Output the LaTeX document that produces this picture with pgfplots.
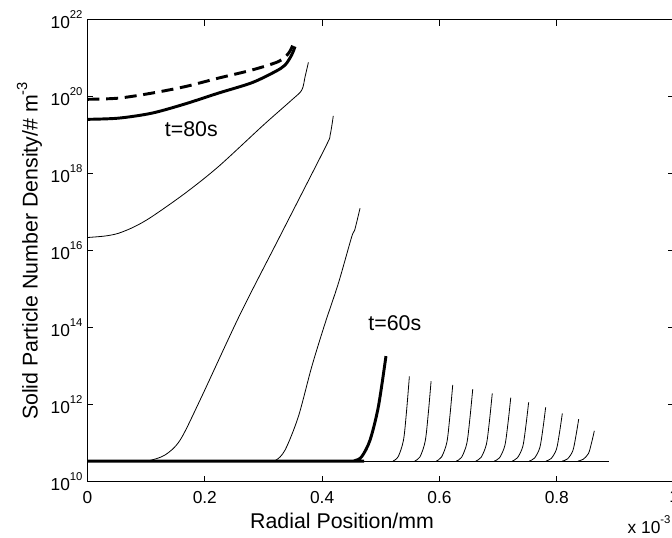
\documentclass[border=0pt]{standalone}
\usepackage{fontspec}
\setmainfont{Liberation Sans}
\usepackage{pgfplots}
\pgfplotsset{compat=1.18}

% power of ten label, MATLAB style
\newcommand{\tpow}[1]{10\raisebox{7.5pt}{\fontsize{8.5}{10}\selectfont #1}}

\begin{document}
\begin{tikzpicture}
\begin{axis}[
  scale only axis, width=440pt, height=346.5pt,
  xmin=0, xmax=1, ymin=1e10, ymax=1e22, ymode=log,
  xtick={0,0.2,0.4,0.6,0.8,1}, xticklabels={0,0.2,0.4,0.6,0.8,1},
  ytick={1e10,1e12,1e14,1e16,1e18,1e20,1e22},
  yticklabels={\tpow{10},\tpow{12},\tpow{14},\tpow{16},\tpow{18},\tpow{20},\tpow{22}},
  yminorticks=false,
  tick align=inside, tick pos=both, major tick length=4.5pt,
  major tick style={line width=0.75pt, black},
  line width=0.75pt,
  tick label style={font=\fontsize{13}{15}\selectfont},
  xticklabel style={yshift=-3pt},
  xlabel={Radial Position/mm},
  ylabel={Solid Particle Number Density/\# m\raisebox{0.5em}{\fontsize{11}{13}\selectfont -3}},
  xlabel style={at={(axis description cs:0.434,-0.0837)}, anchor=center, font=\fontsize{16}{19}\selectfont},
  ylabel style={at={(axis description cs:-0.0989,0.5)}, anchor=center, font=\fontsize{16}{19}\selectfont},
  clip mode=individual,
]
% baseline (thin)
\addplot[black, line width=0.6pt] coordinates {(0,3.5e10) (0.8886,3.5e10)};
% thin profiles
\addplot[black, line width=0.6pt, smooth] coordinates {
  (0,2.24e16) (0.03,2.45e16) (0.0527,2.88e16) (0.08,4.27e16) (0.1096,7.76e16) (0.1664,3.16e17) (0.2231,1.55e18)
  (0.2998,1.86e19) (0.348,8.32e19) (0.3653,1.51e20) (0.371,3.39e20) (0.3766,7.94e20)};
\addplot[black, line width=0.6pt, smooth] coordinates {
  (0.09,3.5e10) (0.103,3.52e10) (0.132,5.0e10) (0.158,1.23e11) (0.192,1.35e12)
  (0.260,2.24e14) (0.328,2.4e16) (0.405,4.79e18) (0.4136,1.02e19) (0.419,3.24e19)};
\addplot[black, line width=0.6pt, smooth] coordinates {
  (0.30,3.5e10) (0.3198,3.6e10) (0.3368,6.76e10) (0.3595,5.01e11) (0.3822,9.77e12)
  (0.405,1.32e14) (0.4277,1.45e15) (0.4504,2.34e16) (0.4555,3.5e16) (0.4646,1.29e17)};
% small profiles after t=60s
\addplot[black, line width=0.6pt, smooth] coordinates {(0.5207,3.5e10) (0.5297,4.57e10) (0.5387,1.23e11) (0.5440,7.24e11) (0.5487,5.5e12)};
\addplot[black, line width=0.6pt, smooth] coordinates {(0.5577,3.5e10) (0.5667,4.47e10) (0.5757,1.15e11) (0.5810,6.17e11) (0.5857,4.17e12)};
\addplot[black, line width=0.6pt, smooth] coordinates {(0.5946,3.5e10) (0.6036,4.47e10) (0.6126,1.07e11) (0.6179,5.37e11) (0.6226,3.31e12)};
\addplot[black, line width=0.6pt, smooth] coordinates {(0.6287,3.5e10) (0.6377,4.37e10) (0.6467,1.02e11) (0.6520,4.68e11) (0.6567,2.57e12)};
\addplot[black, line width=0.6pt, smooth] coordinates {(0.662,3.5e10) (0.671,4.37e10) (0.680,9.55e10) (0.6853,3.98e11) (0.690,2.0e12)};
\addplot[black, line width=0.6pt, smooth] coordinates {(0.6935,3.5e10) (0.7025,4.27e10) (0.7115,8.91e10) (0.7168,3.39e11) (0.7215,1.55e12)};
\addplot[black, line width=0.6pt, smooth] coordinates {(0.724,3.5e10) (0.733,4.27e10) (0.742,8.32e10) (0.7473,2.88e11) (0.752,1.17e12)};
\addplot[black, line width=0.6pt, smooth] coordinates {(0.753,3.5e10) (0.762,4.17e10) (0.771,7.76e10) (0.7763,2.40e11) (0.781,8.71e11)};
\addplot[black, line width=0.6pt, smooth] coordinates {(0.7814,3.5e10) (0.7904,4.07e10) (0.7994,7.08e10) (0.8047,1.95e11) (0.8094,6.03e11)};
\addplot[black, line width=0.6pt, smooth] coordinates {(0.8093,3.5e10) (0.8183,3.98e10) (0.8273,6.46e10) (0.8326,1.58e11) (0.8373,4.27e11)};
\addplot[black, line width=0.6pt, smooth] coordinates {(0.836,3.5e10) (0.845,3.89e10) (0.854,5.5e10) (0.8593,1.05e11) (0.864,2.14e11)};
% t=60s (thick)
\addplot[black, line width=2.2pt, smooth] coordinates {
  (0,3.5e10) (0.44,3.5e10) (0.455,3.55e10) (0.4675,4.57e10) (0.4817,1.23e11) (0.4959,9.12e11) (0.5088,1.86e13)};
% t=80s (thick)
\addplot[black, line width=2.2pt, smooth] coordinates {
  (0,2.63e19) (0.0527,2.82e19) (0.1096,3.80e19) (0.1664,6.61e19) (0.2231,1.26e20)
  (0.280,2.34e20) (0.320,4.57e20) (0.3368,6.76e20) (0.348,1.23e21) (0.3538,2.04e21)};
% dashed
\addplot[black, line width=2.2pt, smooth, dash pattern=on 9pt off 5pt] coordinates {
  (0,8.71e19) (0.0527,9.33e19) (0.1096,1.26e20) (0.1664,1.86e20) (0.2231,3.09e20)
  (0.280,5.01e20) (0.3254,8.32e20) (0.3425,1.35e21) (0.351,2.40e21)};

\node[font=\fontsize{16}{19}\selectfont] at (axis cs:0.177,1.48e19) {t=80s};
\node[font=\fontsize{16}{19}\selectfont] at (axis cs:0.524,1.32e14) {t=60s};
\node[anchor=base west, font=\fontsize{13}{15}\selectfont, inner sep=0pt]
  at ([yshift=-39pt]rel axis cs:0.92,0) {x 10\raisebox{7.5pt}{\fontsize{8.5}{10}\selectfont -3}};
\coordinate (O) at (rel axis cs:0,0);
\end{axis}
\pgfresetboundingbox
\path ([shift={(-65.6pt,-41.25pt)}]O) rectangle ([shift={(438.4pt,361.5pt)}]O);
\end{tikzpicture}
\end{document}
